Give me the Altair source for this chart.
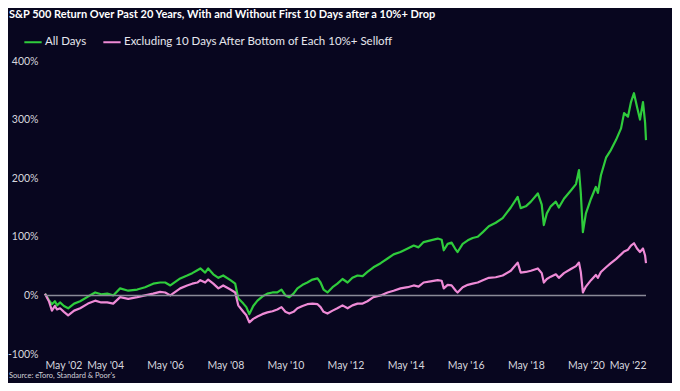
import altair as alt
import pandas as pd

title_text = "S&P 500 Return Over Past 20 Years, With and Without First 10 Days after a 10%+ Drop"
source_text = "Source: eToro, Standard & Poor's"
series_names = ["All Days", "Excluding 10 Days After Bottom of Each 10%+ Selloff"]
series_colors = ["#2fcc3c", "#ee8ad6"]

tick_years = [2002.37 + 2 * i for i in range(11)]
tick_labels = ["May '02", "May '04", "May '06", "May '08", "May '10", "May '12",
               "May '14", "May '16", "May '18", "May '20", "May '22"]
y_ticks = [-100, -50, 0, 50, 100, 150, 200, 250, 300, 350, 400]

years = [2002.37, 2002.50, 2002.60, 2002.70, 2002.77, 2002.87, 2003.00, 2003.14, 2003.34, 2003.54,
         2003.80, 2004.04, 2004.24, 2004.44, 2004.64, 2004.87, 2005.14, 2005.44, 2005.70, 2005.97,
         2006.20, 2006.37, 2006.54, 2006.87, 2007.10, 2007.27, 2007.44, 2007.54, 2007.70, 2007.80,
         2007.97, 2008.14, 2008.30, 2008.54, 2008.70, 2008.80, 2008.97, 2009.07, 2009.17, 2009.30,
         2009.44, 2009.60, 2009.77, 2009.94, 2010.10, 2010.24, 2010.37, 2010.50, 2010.64, 2010.77,
         2010.94, 2011.10, 2011.27, 2011.44, 2011.54, 2011.64, 2011.77, 2011.94, 2012.10, 2012.27,
         2012.44, 2012.60, 2012.77, 2012.94, 2013.10, 2013.30, 2013.54, 2013.77, 2013.97, 2014.20,
         2014.44, 2014.64, 2014.80, 2014.97, 2015.20, 2015.44, 2015.57, 2015.64, 2015.77, 2015.90,
         2016.04, 2016.10, 2016.27, 2016.44, 2016.60, 2016.77, 2016.94, 2017.14, 2017.37, 2017.60,
         2017.87, 2018.10, 2018.20, 2018.37, 2018.54, 2018.77, 2018.90, 2018.97, 2019.07, 2019.20,
         2019.37, 2019.47, 2019.64, 2019.87, 2020.04, 2020.14, 2020.20, 2020.27, 2020.37, 2020.54,
         2020.70, 2020.77, 2020.87, 2021.04, 2021.20, 2021.37, 2021.54, 2021.64, 2021.77, 2021.87,
         2021.97, 2022.07, 2022.17, 2022.27, 2022.34, 2022.37]

all_days = [3, -8, -15, -10, -17, -12, -18, -22, -14, -10,
            -2, 5, 2, 3, 0, 12, 8, 10, 14, 20,
            22, 22, 17, 29, 34, 38, 43, 46, 39, 46,
            36, 30, 34, 26, 20, -5, -14, -20, -32, -18,
            -9, -2, 3, 5, 5, 10, 0, -3, 3, 12,
            18, 22, 27, 29, 22, 10, 5, 14, 20, 28,
            22, 30, 34, 33, 40, 48, 55, 63, 70, 74,
            80, 85, 82, 91, 94, 97, 95, 77, 88, 90,
            78, 74, 88, 94, 98, 100, 108, 118, 124, 132,
            150, 168, 149, 152, 160, 174, 155, 120, 140, 152,
            160, 150, 165, 179, 190, 214, 175, 108, 140, 165,
            185, 175, 205, 235, 248, 265, 285, 311, 305, 330,
            345, 322, 300, 330, 295, 265]

excluding = [3, -10, -26, -18, -24, -22, -28, -34, -26, -22,
             -14, -9, -12, -12, -14, -3, -6, -3, 0, 3,
             6, 5, 0, 12, 17, 20, 22, 26, 22, 27,
             20, 12, 17, 10, 5, -17, -28, -34, -46, -40,
             -36, -32, -29, -27, -24, -20, -28, -31, -28, -22,
             -18, -15, -14, -15, -20, -28, -31, -26, -22, -17,
             -22, -17, -14, -14, -10, -3, 0, 5, 8, 12,
             14, 17, 15, 22, 24, 26, 25, 12, 18, 17,
             8, 5, 14, 18, 20, 22, 26, 30, 31, 34,
             42, 56, 39, 40, 42, 46, 38, 22, 28, 32,
             36, 30, 38, 45, 50, 56, 40, 5, 15, 26,
             35, 30, 40, 48, 55, 62, 70, 75, 78, 85,
             89, 80, 74, 80, 68, 55]

df = pd.concat([
    pd.DataFrame({"year": years, "value": all_days, "series": series_names[0], "order": 1}),
    pd.DataFrame({"year": years, "value": excluding, "series": series_names[1], "order": 0}),
])

W, H = 601, 293
label_expr = "[" + ",".join('"%s"' % t for t in tick_labels) + "][round((datum.value - 2002.37) / 2)]"

x_enc = alt.X("year:Q", scale=alt.Scale(domain=[2002.37, 2022.37], nice=False, zero=False),
              axis=alt.Axis(values=tick_years, labelExpr=label_expr, title=None, grid=False,
                            domain=False, ticks=False, labelPadding=6, labelFontSize=10.5,
                            labelColor="#d6d6de", labelFont="Lato"))
y_enc = alt.Y("value:Q", scale=alt.Scale(domain=[-100, 400], nice=False),
              axis=alt.Axis(values=y_ticks, labelExpr="datum.value + '%'", title=None, grid=False,
                            domain=False, ticks=False, labelPadding=7, labelFontSize=10.5,
                            labelColor="#d6d6de", labelFont="Lato"))

lines = alt.Chart(df).mark_line(strokeWidth=2.2, strokeJoin="round").encode(
    x=x_enc, y=y_enc,
    color=alt.Color("series:N", scale=alt.Scale(domain=series_names, range=series_colors),
                    sort=series_names,
                    legend=alt.Legend(orient="none", legendX=-22, legendY=-29, direction="horizontal",
                                      title=None, symbolType="stroke", symbolSize=300,
                                      symbolStrokeWidth=2, labelFontSize=11.5, labelFont="Lato",
                                      labelColor="#e6e6ee", columnPadding=12, labelOffset=2,
                                      labelLimit=400)),
    order=alt.Order("order:Q"),
    detail="series:N",
)

zero = alt.Chart(pd.DataFrame({"y": [0]})).mark_rule(color="#8a8a98", strokeWidth=1.5).encode(
    y=alt.Y("y:Q")
)

texts = pd.DataFrame({"t": [title_text, source_text],
                      "kind": ["title", "source"]})

title_mark = alt.Chart(pd.DataFrame({"t": [title_text]})).mark_text(
    align="left", baseline="middle", fontSize=11, fontWeight="bold", font="Lato", color="#ffffff"
).encode(x=alt.value(-36), y=alt.value(-46), text="t:N")

source_mark = alt.Chart(pd.DataFrame({"t": [source_text]})).mark_text(
    align="left", baseline="middle", fontSize=7.5, font="Lato", color="#d0d0d8"
).encode(x=alt.value(-36), y=alt.value(H + 22), text="t:N")

chart = alt.layer(lines, zero, title_mark, source_mark).properties(
    width=W, height=H,
    autosize=alt.AutoSizeParams(type="none"),
    padding={"left": 37, "top": 53, "right": 26, "bottom": 29},
    background="#08061f",
).configure_view(stroke=None)

chart.save("out.html", embed_options={"renderer": "svg", "actions": False})
